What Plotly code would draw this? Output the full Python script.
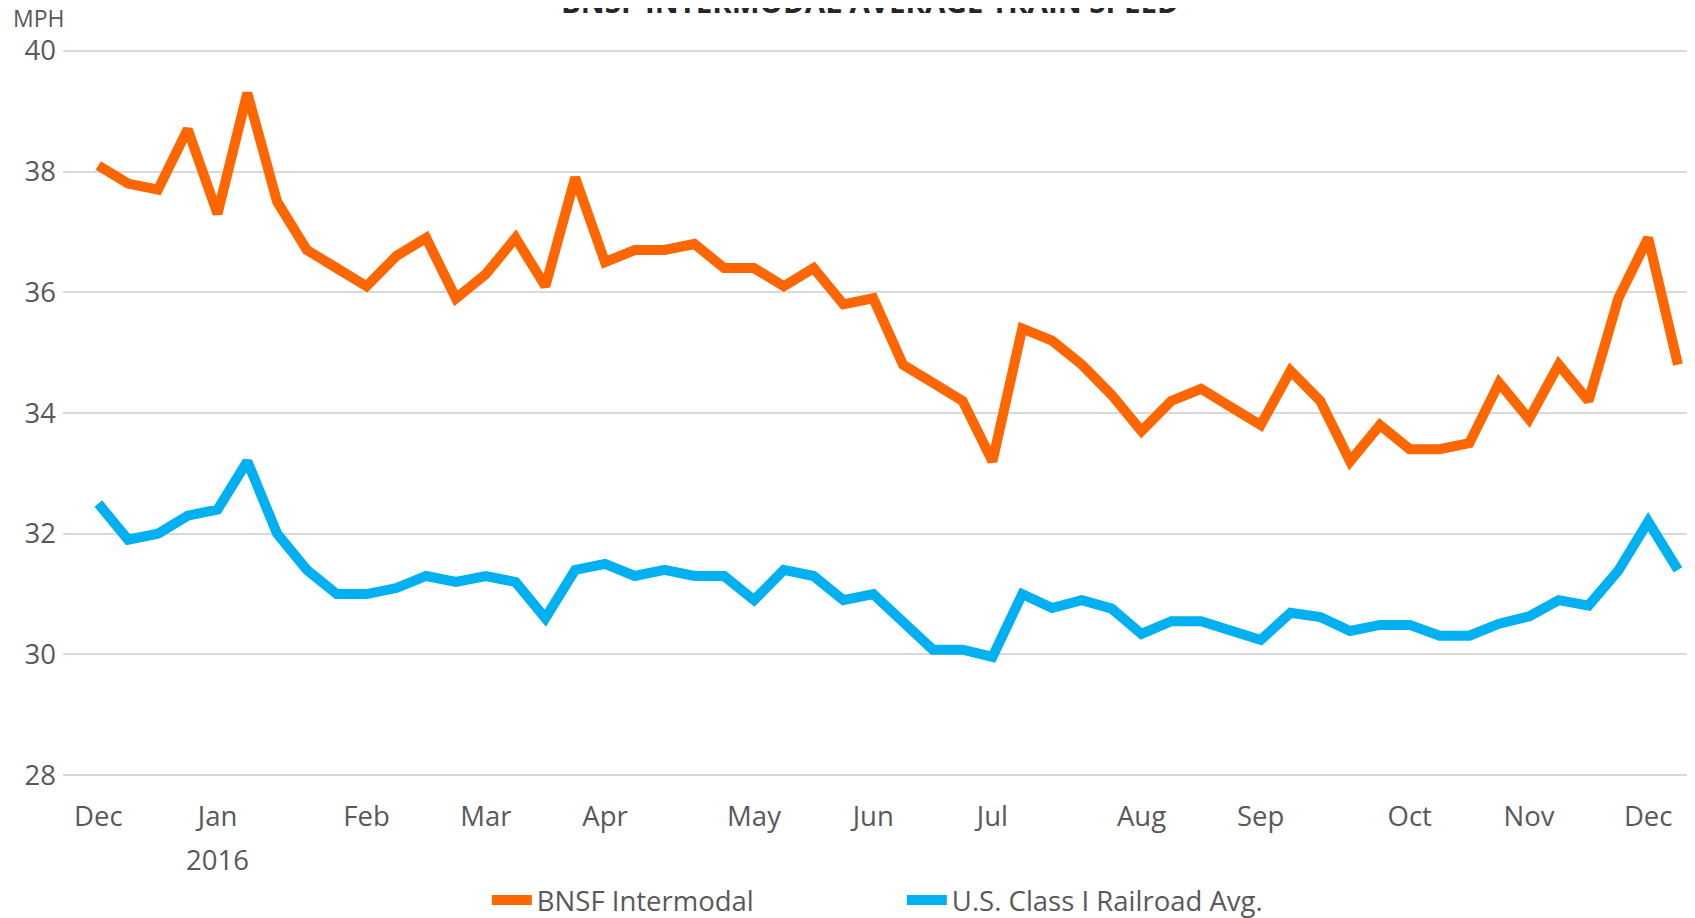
import plotly.graph_objects as go

weeks = [
    "2015-12-04", "2015-12-11", "2015-12-18", "2015-12-25",
    "2016-01-01", "2016-01-08", "2016-01-15", "2016-01-22", "2016-01-29",
    "2016-02-05", "2016-02-12", "2016-02-19", "2016-02-26",
    "2016-03-04", "2016-03-11", "2016-03-18", "2016-03-25",
    "2016-04-01", "2016-04-08", "2016-04-15", "2016-04-22", "2016-04-29",
    "2016-05-06", "2016-05-13", "2016-05-20", "2016-05-27",
    "2016-06-03", "2016-06-10", "2016-06-17", "2016-06-24",
    "2016-07-01", "2016-07-08", "2016-07-15", "2016-07-22", "2016-07-29",
    "2016-08-05", "2016-08-12", "2016-08-19", "2016-08-26",
    "2016-09-02", "2016-09-09", "2016-09-16", "2016-09-23", "2016-09-30",
    "2016-10-07", "2016-10-14", "2016-10-21", "2016-10-28",
    "2016-11-04", "2016-11-11", "2016-11-18", "2016-11-25",
    "2016-12-02", "2016-12-09",
]

bnsf_intermodal = [
    38.1, 37.8, 37.7, 38.7, 37.3, 39.3, 37.5, 36.7, 36.4,
    36.1, 36.6, 36.9, 35.9,
    36.3, 36.9, 36.1, 37.9,
    36.5, 36.7, 36.7, 36.8, 36.4,
    36.4, 36.1, 36.4, 35.8,
    35.9, 34.8, 34.5, 34.2,
    33.2, 35.4, 35.2, 34.8, 34.3,
    33.7, 34.2, 34.4, 34.1,
    33.8, 34.7, 34.2, 33.2, 33.8,
    33.4, 33.4, 33.5, 34.5,
    33.9, 34.8, 34.2, 35.9,
    36.9, 34.8,
]

us_class_i_avg = [
    32.5, 31.9, 32.0, 32.3, 32.4, 33.2, 32.0, 31.4, 31.0,
    31.0, 31.1, 31.3, 31.2,
    31.3, 31.2, 30.6, 31.4,
    31.5, 31.3, 31.4, 31.3, 31.3,
    30.9, 31.4, 31.3, 30.9,
    31.0, 30.55, 30.08, 30.08,
    29.96, 31.0, 30.77, 30.9, 30.76,
    30.34, 30.55, 30.55, 30.4,
    30.24, 30.69, 30.62, 30.39, 30.49,
    30.49, 30.31, 30.31, 30.51,
    30.63, 30.9, 30.81, 31.39,
    32.2, 31.4,
]

tick_dates = ["2015-12-04", "2016-01-01", "2016-02-05", "2016-03-04", "2016-04-01",
              "2016-05-06", "2016-06-03", "2016-07-01", "2016-08-05", "2016-09-02",
              "2016-10-07", "2016-11-04", "2016-12-02"]
tick_labels = ["Dec", "Jan", "Feb", "Mar", "Apr", "May", "Jun", "Jul",
               "Aug", "Sep", "Oct", "Nov", "Dec"]
year_label = "2016"
year_label_date = "2016-01-01"

y_ticks = [28, 30, 32, 34, 36, 38, 40]

title_text = "BNSF INTERMODAL AVERAGE TRAIN SPEED"
unit_text = "MPH"

FONT = "Open Sans, Noto Sans, sans-serif"
GRAY = "#595959"
FS = 27.5

fig = go.Figure()
fig.add_trace(go.Scatter(
    x=weeks, y=bnsf_intermodal, name="BNSF Intermodal", mode="lines",
    line=dict(color="#FF6600", width=10),
))
fig.add_trace(go.Scatter(
    x=weeks, y=us_class_i_avg, name="U.S. Class I Railroad Avg.", mode="lines",
    line=dict(color="#00B0F0", width=10),
))

fig.update_layout(
    width=1695, height=918,
    margin=dict(l=55, r=8, t=41, b=149, autoexpand=False),
    plot_bgcolor="white", paper_bgcolor="white",
    font=dict(family=FONT, color=GRAY),
    showlegend=True,
    legend=dict(
        orientation="h", x=0.514, xanchor="center", y=-0.169, yanchor="middle",
        font=dict(size=FS, color=GRAY, family=FONT),
        entrywidth=360, itemwidth=40,
    ),
    xaxis=dict(
        type="date",
        range=["2015-11-25 17:00", "2016-12-13 00:00"],
        tickmode="array", tickvals=tick_dates, ticktext=tick_labels,
        showgrid=False, zeroline=False, showline=False, ticks="",
        tickfont=dict(size=FS, color=GRAY, family=FONT),
        ticklabelstandoff=20, automargin=False,
    ),
    yaxis=dict(
        range=[27.97, 40.03],
        tickmode="array", tickvals=y_ticks,
        showgrid=True, gridcolor="#D9D9D9", gridwidth=1.5,
        zeroline=False, showline=False, ticks="",
        tickfont=dict(size=FS, color=GRAY, family=FONT),
        ticklabelstandoff=6, automargin=False,
    ),
    annotations=[
        dict(text="<b>" + title_text + "</b>", xref="paper", yref="paper",
             x=0.4945, y=1.0343, xanchor="center", yanchor="bottom", showarrow=False,
             font=dict(size=29.5, color="#262626", family=FONT)),
        dict(text=unit_text, xref="paper", yref="paper",
             x=-0.0153, y=1.042, xanchor="center", yanchor="middle", showarrow=False,
             font=dict(size=23, color=GRAY, family=FONT)),
        dict(text=year_label, xref="x", yref="paper",
             x=year_label_date, y=-0.1135, xanchor="center", yanchor="middle", showarrow=False,
             font=dict(size=FS, color=GRAY, family=FONT)),
    ],
)

fig.write_html("out.html")
